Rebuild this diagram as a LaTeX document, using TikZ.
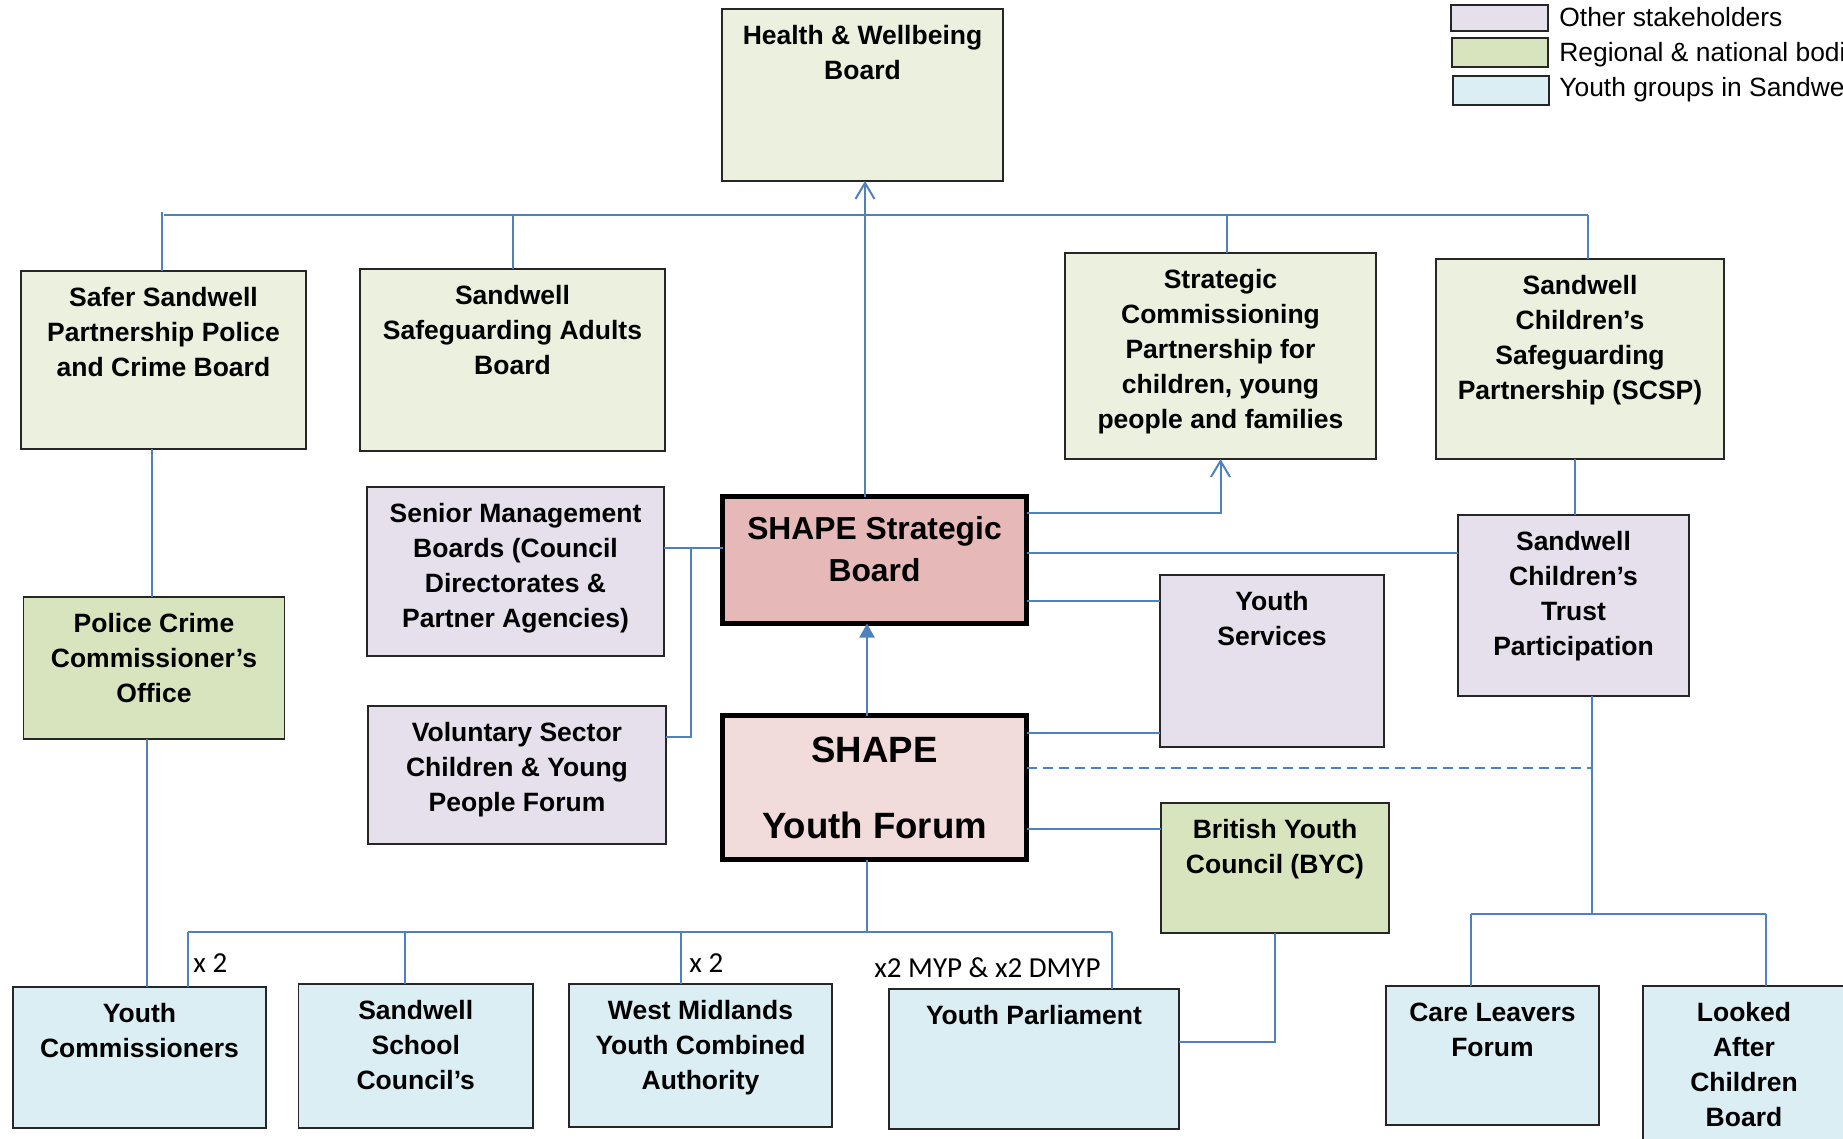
\documentclass[tikz,border=0pt]{standalone}
\usepackage{fontspec}
\setmainfont{Liberation Sans}
\newfontfamily\lblfont{Carlito}
\usetikzlibrary{positioning,arrows.meta}

\definecolor{regpale}{RGB}{235,241,222}
\definecolor{regdark}{RGB}{215,228,189}
\definecolor{othlav}{RGB}{229,224,236}
\definecolor{youthblue}{RGB}{219,238,244}
\definecolor{stratred}{RGB}{230,185,184}
\definecolor{forumpink}{RGB}{242,220,219}
\definecolor{linkblue}{RGB}{79,129,189}

\tikzset{
  boxbase/.style={draw=black!85, line width=0.75pt, outer sep=0pt, inner sep=0pt},
  regbox/.style={boxbase, fill=regpale},
  natbox/.style={boxbase, fill=regdark},
  othbox/.style={boxbase, fill=othlav},
  ygbox/.style={boxbase, fill=youthblue},
  shapebox/.style={draw=black, line width=2.5pt, outer sep=0pt, inner sep=0pt},
  boxtxt/.style={font=\bfseries\fontsize{13.25}{17.5}\selectfont, align=center, inner sep=0pt},
  link/.style={draw=linkblue, line width=1pt},
  openhead/.style={-{Straight Barb[length=8pt,width=9.5pt]}},
  x2lbl/.style={font=\lblfont\fontsize{14.5}{17}\selectfont, inner sep=0pt, anchor=base west},
  legtxt/.style={font=\fontsize{13.2}{16}\selectfont, inner sep=0pt, anchor=base west},
}

\begin{document}
\begin{tikzpicture}[x=0.5pt,y=-0.5pt]
\useasboundingbox (0,0) rectangle (1843,1139);
\clip (0,0) rectangle (1843,1139);

% Legend
\node[othbox, minimum width=48.5pt, minimum height=13pt] (lg1) at (1499.5,18) {};
\node[natbox, minimum width=48pt, minimum height=14.5pt] (lg2) at (1500,52.5) {};
\node[ygbox, minimum width=48pt, minimum height=14.5pt] (lg3) at (1501,90.5) {};
\node[legtxt] (lg1t) at (1559,27) {Other stakeholders};
\node[legtxt] (lg2t) at (1559,62) {Regional \& national bodies};
\node[legtxt] (lg3t) at (1559,97) {Youth groups in Sandwell};

% Top row boards
\node[regbox, minimum width=140.5pt, minimum height=86pt] (hwb) at (862.5,95) {};
\node[boxtxt, below=8.1pt of hwb.north] (hwbt) {Health \& Wellbeing\\Board};
\node[regbox, minimum width=142.5pt, minimum height=89pt] (ssp) at (163.5,360) {};
\node[boxtxt, below=8.1pt of ssp.north] (sspt) {Safer Sandwell\\Partnership Police\\and Crime Board};
\node[regbox, minimum width=152.5pt, minimum height=91pt] (ssab) at (512.5,360) {};
\node[boxtxt, below=8.1pt of ssab.north] (ssabt) {Sandwell\\Safeguarding Adults\\Board};
\node[regbox, minimum width=155.5pt, minimum height=103pt] (scp) at (1220.5,356) {};
\node[boxtxt, below=8.1pt of scp.north] (scpt) {Strategic\\Commissioning\\Partnership for\\children, young\\people and families};
\node[regbox, minimum width=144pt, minimum height=100pt] (scsp) at (1580,359) {};
\node[boxtxt, below=8.1pt of scsp.north] (scspt) {Sandwell\\Children’s\\Safeguarding\\Partnership (SCSP)};

% Middle row
\node[othbox, minimum width=148.5pt, minimum height=84.5pt] (smb) at (515.5,571.5) {};
\node[boxtxt, below=8.1pt of smb.north] (smbt) {Senior Management\\Boards (Council\\Directorates \&\\Partner Agencies)};
\node[othbox, minimum width=149pt, minimum height=69pt] (vol) at (517,775) {};
\node[boxtxt, below=8.1pt of vol.north] (volt) {Voluntary Sector\\Children \& Young\\People Forum};
\node[natbox, minimum width=130.5pt, minimum height=71pt] (pcc) at (154,668) {};
\node[boxtxt, below=8.1pt of pcc.north] (pcct) {Police Crime\\Commissioner’s\\Office};
\node[shapebox, fill=stratred, minimum width=152pt, minimum height=63.5pt] (ssb) at (874.5,560) {};
\node[boxtxt, font=\bfseries\fontsize{15.9}{21}\selectfont, below=10pt of ssb.north] (ssbt) {SHAPE Strategic\\Board};
\node[shapebox, fill=forumpink, minimum width=152pt, minimum height=72pt] (syf) at (874.5,787.5) {};
\node[boxtxt, font=\bfseries\fontsize{18.3}{38}\selectfont, below=10.7pt of syf.north] (syft) {SHAPE\\Youth Forum};
\node[othbox, minimum width=112pt, minimum height=86pt] (ys) at (1272,661) {};
\node[boxtxt, below=8.1pt of ys.north] (yst) {Youth\\Services};
\node[othbox, minimum width=115.5pt, minimum height=90.5pt] (trust) at (1573.5,605.5) {};
\node[boxtxt, below=8.1pt of trust.north] (trustt) {Sandwell\\Children’s\\Trust\\Participation};
\node[natbox, minimum width=114pt, minimum height=65pt] (byc) at (1275,868) {};
\node[boxtxt, below=8.1pt of byc.north] (byct) {British Youth\\Council (BYC)};

% Youth groups
\node[ygbox, minimum width=126.5pt, minimum height=70.5pt] (yc) at (139.5,1057.5) {};
\node[boxtxt, below=8.1pt of yc.north] (yct) {Youth\\Commissioners};
\node[ygbox, minimum width=117.25pt, minimum height=72pt] (ssc) at (415.75,1056) {};
\node[boxtxt, below=8.1pt of ssc.north] (ssct) {Sandwell\\School\\Council’s};
\node[ygbox, minimum width=131.5pt, minimum height=71.5pt] (wmca) at (700.5,1055.5) {};
\node[boxtxt, below=8.1pt of wmca.north] (wmcat) {West Midlands\\Youth Combined\\Authority};
\node[ygbox, minimum width=145pt, minimum height=70pt] (yp) at (1034,1059) {};
\node[boxtxt, below=8.1pt of yp.north] (ypt) {Youth Parliament};
\node[ygbox, minimum width=106.5pt, minimum height=69.5pt] (clf) at (1492.5,1055.5) {};
\node[boxtxt, below=8.1pt of clf.north] (clft) {Care Leavers\\Forum};
\node[ygbox, minimum width=101pt, minimum height=97pt] (lac) at (1744,1083) {};
\node[boxtxt, below=8.1pt of lac.north] (lact) {Looked\\After\\Children\\Board};

% Bus points
\coordinate (topbus) at (862,215);
\coordinate (mgmtjn) at (691,548);
\coordinate (ctjoin) at (1592,914);
\coordinate (ybus) at (867,932);

% Links to the top boards
\draw[link, openhead] ([xshift=1.25pt]hwb.south |- ssb.north) -- ([xshift=1.25pt]hwb.south);
\draw[link] (ssp.north |- topbus) -- ([xshift=4pt]scsp.north |- topbus);
\draw[link] ([xshift=-1pt]ssp.north) -- ([xshift=-1pt]ssp.north |- topbus) -- ++(0,-3);
\draw[link] (ssab.north) -- (ssab.north |- topbus);
\draw[link] ([xshift=3.25pt]scp.north) -- ([xshift=3.25pt]scp.north |- topbus);
\draw[link] ([xshift=4pt]scsp.north) -- ([xshift=4pt]scsp.north |- topbus);
\draw[link, openhead] ([yshift=23.5pt]ssb.east) -| (scp.south);

% Left column
\draw[link] ([xshift=-5.75pt]ssp.south) -- ([xshift=-5.75pt]ssp.south |- pcc.north);
\draw[link] ([xshift=-3.5pt]pcc.south) -- ([xshift=-3.5pt]pcc.south |- yc.north);
\draw[link] (smb.east |- mgmtjn) -- (ssb.west |- mgmtjn);
\draw[link] (mgmtjn) |- ([yshift=19pt]vol.east);

% Right side
\draw[link] ([yshift=3.5pt]ssb.east) -- ([yshift=3.5pt]ssb.east -| trust.west);
\draw[link] ([yshift=-20.5pt]ssb.east) -- ([yshift=-20.5pt]ssb.east -| ys.west);
\draw[link] ([yshift=27.25pt]syf.east) -- ([yshift=27.25pt]syf.east -| ys.west);
\draw[link] ([yshift=-20.75pt]syf.east) -- ([yshift=-20.75pt]syf.east -| byc.west);
\draw[link, dashed, dash pattern=on 5pt off 3pt] ([yshift=9.75pt]syf.east) -- ([yshift=9.75pt]syf.east -| ctjoin);
\draw[link] ([xshift=-2.5pt]scsp.south) -- ([xshift=-2.5pt]scsp.south |- trust.north);
\draw[link] (trust.south -| ctjoin) -- (ctjoin);
\draw[link] ([xshift=-10.75pt]clf.north |- ctjoin) -- ([xshift=11pt]lac.north |- ctjoin);
\draw[link] ([xshift=-10.75pt]clf.north) -- ([xshift=-10.75pt]clf.north |- ctjoin);
\draw[link] ([xshift=11pt]lac.north) -- ([xshift=11pt]lac.north |- ctjoin);
\draw[link] (byc.south) |- ([yshift=8.5pt]yp.east);

% Youth Forum to youth groups
\draw[link, -{Triangle[length=7pt,width=7.5pt]}] ([xshift=-3.75pt]syf.north) -- ([xshift=-3.75pt]ssb.south);
\draw[link] ([xshift=-3.75pt]syf.south) -- (ybus);
\draw[link] ([xshift=24.25pt]yc.north |- ybus) -- ([xshift=38.75pt]yp.north |- ybus);
\draw[link] ([xshift=24.25pt]yc.north) -- ([xshift=24.25pt]yc.north |- ybus);
\draw[link] ([xshift=-5.35pt]ssc.north) -- ([xshift=-5.35pt]ssc.north |- ybus);
\draw[link] ([xshift=-10pt]wmca.north) -- ([xshift=-10pt]wmca.north |- ybus);
\draw[link] ([xshift=38.75pt]yp.north) -- ([xshift=38.75pt]yp.north |- ybus);

% Seat labels
\node[x2lbl] (ycx) at (193,972) {x 2};
\node[x2lbl] (wmcax) at (689,972) {x 2};
\node[x2lbl] (ypx) at (874,977) {x2 MYP \& x2 DMYP};

\end{tikzpicture}
\end{document}
